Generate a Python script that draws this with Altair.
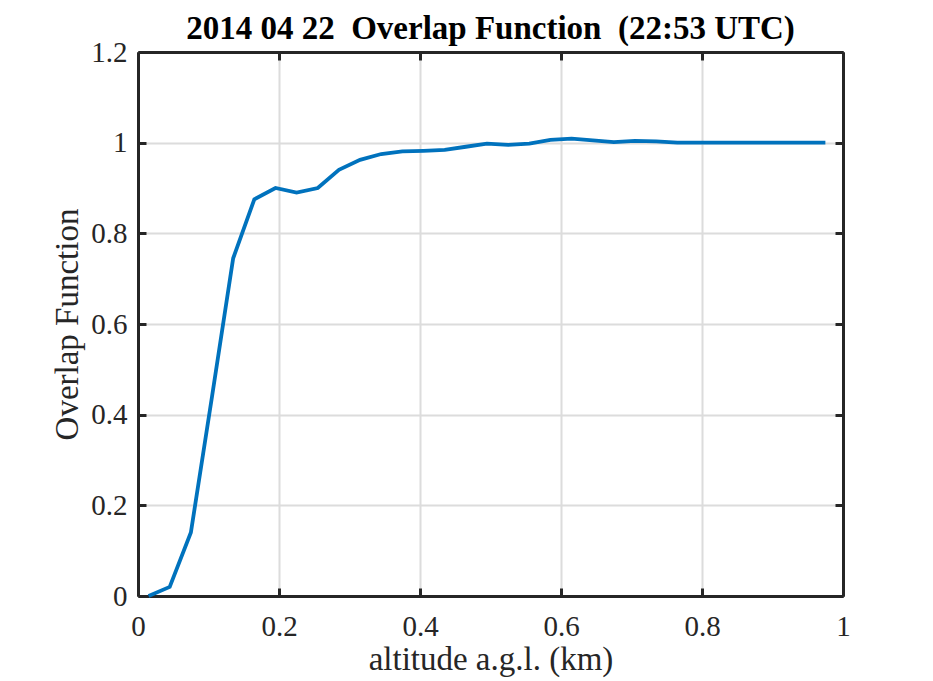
import altair as alt
import pandas as pd

altitude_km = [0.015, 0.045, 0.075, 0.105, 0.135, 0.165, 0.195, 0.225, 0.255, 0.285,
               0.315, 0.345, 0.375, 0.405, 0.435, 0.465, 0.495, 0.525, 0.555, 0.585,
               0.615, 0.645, 0.675, 0.705, 0.735, 0.765, 0.795, 0.825, 0.855, 0.885,
               0.915, 0.945, 0.975]
overlap = [0.0, 0.02, 0.14, 0.44, 0.745, 0.875, 0.90, 0.89, 0.90, 0.94,
           0.962, 0.975, 0.981, 0.982, 0.984, 0.991, 0.998, 0.995, 0.998, 1.006,
           1.009, 1.005, 1.001, 1.004, 1.003, 1.0, 1.0, 1.0, 1.0, 1.0,
           1.0, 1.0, 1.0]
x_ticks = [0, 0.2, 0.4, 0.6, 0.8, 1.0]
y_ticks = [0, 0.2, 0.4, 0.6, 0.8, 1.0, 1.2]

df = pd.DataFrame({"alt": altitude_km, "ov": overlap})

FONT = "Liberation Serif"
AX = "#262626"
LINE = "#0072BD"

common = dict(
    domainColor=AX, domainWidth=3, tickColor=AX, tickWidth=3,
    tickSize={"expr": "-8"}, labelFont=FONT, labelFontSize=29, labelColor=AX,
    labelFlush=False,
    titleFont=FONT, titleFontWeight="normal", titleColor=AX,
)

base = alt.Chart(df)

main = base.mark_line(color=LINE, strokeWidth=3.8).encode(
    x=alt.X("alt:Q", scale=alt.Scale(domain=[0, 1], nice=False),
            axis=alt.Axis(values=x_ticks, format="~g", grid=True, gridColor="#dcdcdc",
                          gridWidth=2, title="altitude a.g.l. (km)", titleFontSize=33,
                          labelPadding=24, titlePadding=2, **common)),
    y=alt.Y("ov:Q", scale=alt.Scale(domain=[0, 1.2], nice=False),
            axis=alt.Axis(values=y_ticks, format="~g", grid=True, gridColor="#dcdcdc",
                          gridWidth=2, title="Overlap Function", titleFontSize=33,
                          labelPadding=19, titlePadding=6, **common)),
)

frame = base.mark_line(opacity=0).encode(
    x=alt.X("alt:Q", scale=alt.Scale(domain=[0, 1], nice=False),
            axis=alt.Axis(orient="top", values=x_ticks, labels=False, grid=False,
                          title=None, **common)),
    y=alt.Y("ov:Q", scale=alt.Scale(domain=[0, 1.2], nice=False),
            axis=alt.Axis(orient="right", values=y_ticks, labels=False, grid=False,
                          title=None, **common)),
)

TITLE = "2014 04 22\u00a0 Overlap Function\u00a0 (22:53 UTC)"

chart = alt.layer(main, frame).resolve_scale(x="independent", y="independent").resolve_axis(
    x="independent", y="independent"
).properties(
    width=705, height=544,
    title=alt.TitleParams(TITLE, font=FONT,
                          fontSize=33, fontWeight="bold", color="#000000",
                          anchor="middle", baseline="bottom", offset=4, dy=45),
    autosize=alt.AutoSizeParams(type="none"),
    padding={"left": 138, "top": 52, "right": 90, "bottom": 85},
    background="#ffffff",
).configure_view(stroke=None)

chart.save("out.html", embed_options={"renderer": "svg", "actions": False})
